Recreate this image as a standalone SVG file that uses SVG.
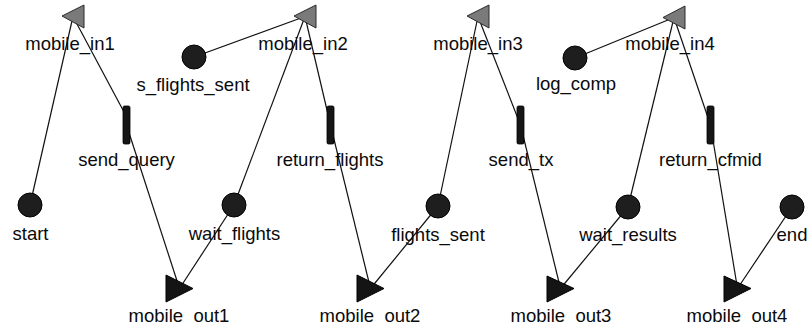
<svg xmlns="http://www.w3.org/2000/svg" width="809" height="330" viewBox="0 0 809 330">
  <style>
    .conn line { stroke: #111; stroke-width: 1.2; fill: none; }
    .place circle { fill: #1e1e1e; stroke: #000; stroke-width: 1; }
    .in polygon { fill: #7a7a7a; stroke: #2a2a2a; stroke-width: 1; }
    .out polygon { fill: #141414; stroke: #000; stroke-width: 1; }
    .trans rect { fill: #161616; stroke: #000; stroke-width: 0.8; }
    text { font-family: "Liberation Sans", Arial, Helvetica, sans-serif; font-size: 18.5px; fill: #0a0a0a; text-anchor: middle; }
  </style>
  <defs>
    <!-- canvas edge: the lower labels are cut just under their baseline -->
    <clipPath id="canvasEdge">
      <rect x="0" y="0" width="809" height="323.5"/>
    </clipPath>
  </defs>

  <rect x="0" y="0" width="809" height="330" fill="#fff"/>

  <!-- arcs -->
  <g id="connectors" class="conn">
    <line x1="30" y1="205" x2="73" y2="16.5"/>
    <line x1="73" y1="16.5" x2="124" y2="112"/>
    <line x1="126.5" y1="125" x2="179.5" y2="288.5"/>
    <line x1="194" y1="57" x2="305" y2="16.5"/>
    <line x1="305" y1="16.5" x2="234" y2="205"/>
    <line x1="234" y1="205" x2="179.5" y2="288.5"/>
    <line x1="305" y1="16.5" x2="330.5" y2="125"/>
    <line x1="330.5" y1="125" x2="370.5" y2="288.5"/>
    <line x1="438" y1="206" x2="370.5" y2="288.5"/>
    <line x1="438" y1="206" x2="478" y2="16.5"/>
    <line x1="478" y1="16.5" x2="520.5" y2="125"/>
    <line x1="520.5" y1="125" x2="560.5" y2="288.5"/>
    <line x1="575" y1="58" x2="674" y2="17.5"/>
    <line x1="674" y1="17.5" x2="628" y2="207"/>
    <line x1="628" y1="207" x2="560.5" y2="288.5"/>
    <line x1="674" y1="17.5" x2="710.5" y2="125"/>
    <line x1="710.5" y1="125" x2="737.5" y2="288.5"/>
    <line x1="792" y1="207" x2="737.5" y2="288.5"/>
  </g>

  <!-- input ports -->
  <g id="mobile_in1" class="in">
    <polygon points="62,16 84,5 84,28"/>
    <text x="70" y="50">mobile_in1</text>
  </g>
  <g id="mobile_in2" class="in">
    <polygon points="294,16 316,5 316,28"/>
    <text x="303" y="50">mobile_in2</text>
  </g>
  <g id="mobile_in3" class="in">
    <polygon points="467,16 489,5 489,28"/>
    <text x="478" y="50">mobile_in3</text>
  </g>
  <g id="mobile_in4" class="in">
    <polygon points="663,17.5 685,6 685,29"/>
    <text x="670" y="50">mobile_in4</text>
  </g>

  <!-- places -->
  <g id="s_flights_sent" class="place">
    <circle cx="194" cy="57" r="12"/>
    <text x="193" y="91">s_flights_sent</text>
  </g>
  <g id="log_comp" class="place">
    <circle cx="575" cy="58" r="12"/>
    <text x="576" y="90">log_comp</text>
  </g>
  <g id="start" class="place">
    <circle cx="30" cy="205" r="12"/>
    <text x="30.5" y="240">start</text>
  </g>
  <g id="wait_flights" class="place">
    <circle cx="234" cy="205" r="12"/>
    <text x="234.5" y="240">wait_flights</text>
  </g>
  <g id="flights_sent" class="place">
    <circle cx="438" cy="206" r="12"/>
    <text x="438" y="241">flights_sent</text>
  </g>
  <g id="wait_results" class="place">
    <circle cx="628" cy="207" r="12"/>
    <text x="628" y="241">wait_results</text>
  </g>
  <g id="end" class="place">
    <circle cx="792" cy="207" r="12"/>
    <text x="792" y="241">end</text>
  </g>

  <!-- transitions -->
  <g id="send_query" class="trans">
    <rect x="123" y="106" width="7" height="38" rx="1.5"/>
    <text x="126.5" y="166">send_query</text>
  </g>
  <g id="return_flights" class="trans">
    <rect x="327" y="106" width="7" height="38" rx="1.5"/>
    <text x="330" y="166">return_flights</text>
  </g>
  <g id="send_tx" class="trans">
    <rect x="517" y="106" width="7" height="38" rx="1.5"/>
    <text x="521" y="166">send_tx</text>
  </g>
  <g id="return_cfmid" class="trans">
    <rect x="707" y="106" width="7" height="38" rx="1.5"/>
    <text x="710.5" y="166">return_cfmid</text>
  </g>

  <!-- output ports -->
  <g id="mobile_out1" class="out">
    <polygon points="166,275 166,302 193,288.5"/>
    <text x="179" y="322" clip-path="url(#canvasEdge)">mobile_out1</text>
  </g>
  <g id="mobile_out2" class="out">
    <polygon points="357,275 357,302 384,288.5"/>
    <text x="370" y="322" clip-path="url(#canvasEdge)">mobile_out2</text>
  </g>
  <g id="mobile_out3" class="out">
    <polygon points="547,276 547,302 574,288.5"/>
    <text x="561" y="322" clip-path="url(#canvasEdge)">mobile_out3</text>
  </g>
  <g id="mobile_out4" class="out">
    <polygon points="724,276 724,302 751,288.5"/>
    <text x="737" y="322" clip-path="url(#canvasEdge)">mobile_out4</text>
  </g>
</svg>
